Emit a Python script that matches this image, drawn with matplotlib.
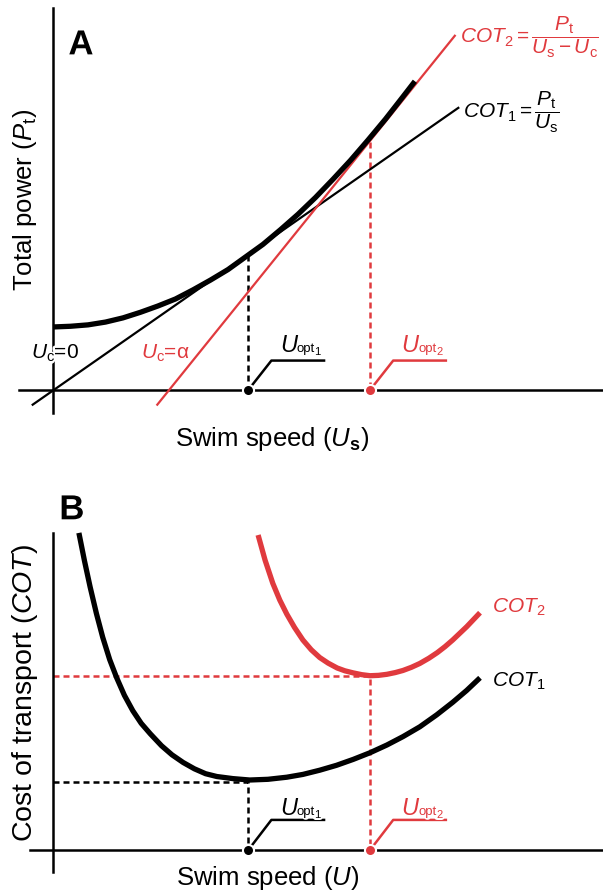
import matplotlib.pyplot as plt
import matplotlib.patheffects as pe
from matplotlib.transforms import offset_copy

plt.rcParams['font.family'] = 'Liberation Sans'
plt.rcParams['mathtext.fontset'] = 'custom'
plt.rcParams['mathtext.rm'] = 'Liberation Sans'
plt.rcParams['mathtext.it'] = 'Liberation Sans:italic'
plt.rcParams['mathtext.bf'] = 'Liberation Sans:bold'

RED = '#e03a3e'
HALO = [pe.withStroke(linewidth=3.5, foreground='white')]

# ---------------------------------------------------------------------------
# Panel A: total power against swim speed (arbitrary units)
# ---------------------------------------------------------------------------
speed_a = [0.0, 0.25, 0.5, 0.75, 1.0, 1.25, 1.5, 1.75, 2.0, 2.25, 2.5,
           2.75, 3.0, 3.25, 3.5, 3.75, 4.0, 4.25, 4.5, 4.75, 5.0, 5.17]
power = [0.90, 0.91, 0.93, 0.97, 1.03, 1.11, 1.20, 1.30, 1.43, 1.57, 1.72,
         1.90, 2.08, 2.29, 2.51, 2.75, 3.01, 3.28, 3.57, 3.87, 4.19, 4.41]

# tangent lines from the origin (still water) and from U = alpha (current)
cot1_line_u = [-0.29, 5.79]
cot1_line_p = [-0.21, 4.03]
cot2_line_u = [1.49, 5.74]
cot2_line_p = [-0.21, 5.06]

u_opt = [2.79, 4.53]
p_opt = [1.93, 3.54]

# ---------------------------------------------------------------------------
# Panel B: cost of transport against swim speed
# ---------------------------------------------------------------------------
speed_cot1 = [0.37, 0.45, 0.53, 0.62, 0.71, 0.81, 0.91, 1.02, 1.14, 1.26,
              1.39, 1.55, 1.70, 1.86, 2.02, 2.18, 2.34, 2.57, 2.81, 3.07,
              3.34, 3.57, 3.81, 4.05, 4.29, 4.53, 4.77, 5.00, 5.24, 5.48,
              5.71, 5.91, 6.10]
cot1 = [4.53, 4.13, 3.76, 3.38, 3.04, 2.72, 2.46, 2.21, 1.99, 1.81,
        1.66, 1.49, 1.36, 1.25, 1.16, 1.09, 1.05, 1.02, 1.00, 1.01,
        1.04, 1.08, 1.14, 1.21, 1.295, 1.39, 1.50, 1.62, 1.76, 1.93,
        2.11, 2.28, 2.46]
speed_cot2 = [2.93, 3.03, 3.14, 3.24, 3.34, 3.45, 3.57, 3.69, 3.81, 3.93,
              4.06, 4.17, 4.29, 4.41, 4.53, 4.65, 4.77, 4.89, 5.00, 5.12,
              5.24, 5.37, 5.49, 5.60, 5.71, 5.91, 6.10]
cot2 = [4.50, 4.14, 3.81, 3.57, 3.37, 3.18, 3.00, 2.86, 2.75, 2.67,
        2.60, 2.56, 2.53, 2.505, 2.49, 2.495, 2.51, 2.535, 2.565, 2.61,
        2.665, 2.74, 2.82, 2.905, 3.00, 3.19, 3.39]
cot_opt = [0.97, 2.49]

fig = plt.figure(figsize=(6.03, 8.96), dpi=100)
ax_a = fig.add_axes([0, 0.5, 1, 0.5])
ax_b = fig.add_axes([0, 0, 1, 0.5])
ax_a.set_xlim(-0.757, 7.857)
ax_a.set_ylim(-0.829, 5.571)
ax_b.set_xlim(-0.757, 7.857)
ax_b.set_ylim(-0.657, 5.743)
for ax in (ax_a, ax_b):
    ax.axis('off')

AX_LW = 1.8
CURVE_LW = 3.8
DASH = (2.4, 1.6)
LABEL_FS = 18.5


def halo_text(ax, x, y, s, transform=None, **kw):
    # white outline drawn underneath so neighbouring pieces don't blank each other
    tr = transform if transform is not None else ax.transData
    ax.text(x, y, s, transform=tr, zorder=5.5, path_effects=HALO,
            **{k: v for k, v in kw.items() if k != 'color'}, color='white')
    ax.text(x, y, s, transform=tr, zorder=6, **kw)


def opt_marker(ax, u, color, idx, dy, text_dy):
    # dot on the speed axis with a bent leader line and a U_opt label
    ax.plot([u, u + 0.33, u + 1.1], [0, dy, dy], color=color, lw=1.8,
            solid_capstyle='butt', zorder=4)
    ax.plot(u, 0, 'o', ms=8, color=color, mec='white', mew=1.5, zorder=5)
    x, y = u + 0.45, dy + text_dy
    kw = dict(color=color, ha='left', va='baseline')
    halo_text(ax, x, y, 'U', fontsize=17, fontstyle='italic', **kw)
    halo_text(ax, x, y, 'opt', fontsize=9.5,
              transform=offset_copy(ax.transData, fig=fig, x=12.3, y=0.3,
                                    units='points'), **kw)
    halo_text(ax, x, y, idx, fontsize=8,
              transform=offset_copy(ax.transData, fig=fig, x=25.0, y=-1.8,
                                    units='points'), **kw)


# --- panel A ---
ax_a.plot([-0.49, 7.857], [0, 0], color='black', lw=AX_LW)
ax_a.plot([0, 0], [-0.33, 5.46], color='black', lw=AX_LW)

ax_a.plot(cot1_line_u, cot1_line_p, color='black', lw=1.6, zorder=2)
ax_a.plot(cot2_line_u, cot2_line_p, color=RED, lw=1.6, zorder=2)
ax_a.plot(speed_a, power, color='black', lw=CURVE_LW, solid_joinstyle='round',
          solid_capstyle='butt', zorder=3)

ax_a.plot([u_opt[0], u_opt[0]], [p_opt[0], 0], color='black', lw=1.8,
          dashes=DASH, zorder=1)
ax_a.plot([u_opt[1], u_opt[1]], [p_opt[1], 0], color=RED, lw=1.8,
          dashes=DASH, zorder=1)

opt_marker(ax_a, u_opt[0], 'black', '1', 0.42, 0.12)
opt_marker(ax_a, u_opt[1], RED, '2', 0.42, 0.12)

halo_text(ax_a, 0.03, 0.53, r'$\mathit{U}_\mathrm{c}$=0', fontsize=15,
          ha='center', va='center', color='black')
halo_text(ax_a, 1.6, 0.53, r'$\mathit{U}_\mathrm{c}$=α', fontsize=15,
          ha='center', va='center', color=RED)

ax_a.text(5.81, 5.04,
          r'$\mathit{COT}_\mathrm{2} = \dfrac{\mathit{P}_\mathrm{t}}'
          r'{\mathit{U}_\mathrm{s} - \mathit{U}_\mathrm{c}}$',
          color=RED, fontsize=15, ha='left', va='center')
ax_a.text(5.86, 3.97,
          r'$\mathit{COT}_\mathrm{1} = \dfrac{\mathit{P}_\mathrm{t}}{\mathit{U}_\mathrm{s}}$',
          color='black', fontsize=15, ha='left', va='center')

ax_a.text(0.4, 4.93, 'A', fontsize=25, fontweight='bold', ha='center',
          va='center', path_effects=HALO)
ax_a.text(-0.4, 2.71, r'Total power ($\mathit{P}_\mathrm{t}$)', fontsize=LABEL_FS,
          rotation=90, ha='center', va='center')
ax_a.text(3.13, -0.8, r'Swim speed ($\mathit{U}_\mathbf{s}$)', fontsize=LABEL_FS,
          ha='center', va='baseline')

# --- panel B ---
ax_b.plot([-0.33, 7.857], [0, 0], color='black', lw=AX_LW)
ax_b.plot([0, 0], [-0.31, 4.53], color='black', lw=AX_LW)

ax_b.plot([0, u_opt[0], u_opt[0]], [cot_opt[0], cot_opt[0], 0], color='black',
          lw=1.8, dashes=DASH, zorder=1)
ax_b.plot([0, u_opt[1], u_opt[1]], [cot_opt[1], cot_opt[1], 0], color=RED,
          lw=1.8, dashes=DASH, zorder=1)

ax_b.plot(speed_cot1, cot1, color='black', lw=CURVE_LW, solid_joinstyle='round',
          solid_capstyle='butt', zorder=3)
ax_b.plot(speed_cot2, cot2, color=RED, lw=CURVE_LW, solid_joinstyle='round',
          solid_capstyle='butt', zorder=3)

ax_b.text(6.27, 3.47, r'$\mathit{COT}_\mathrm{2}$', color=RED, fontsize=15,
          ha='left', va='center')
ax_b.text(6.27, 2.41, r'$\mathit{COT}_\mathrm{1}$', color='black', fontsize=15,
          ha='left', va='center')

opt_marker(ax_b, u_opt[0], 'black', '1', 0.43, 0.07)
opt_marker(ax_b, u_opt[1], RED, '2', 0.43, 0.07)

ax_b.text(0.27, 4.86, 'B', fontsize=25, fontweight='bold', ha='center',
          va='center', path_effects=HALO)
ax_b.text(-0.4, 2.24, r'Cost of transport ($\mathit{COT}$)', fontsize=20.5,
          rotation=90, ha='center', va='center')
ax_b.text(3.07, -0.5, r'Swim speed ($\mathit{U}$)', fontsize=LABEL_FS,
          ha='center', va='baseline')

fig.savefig('out.png', dpi=100)
